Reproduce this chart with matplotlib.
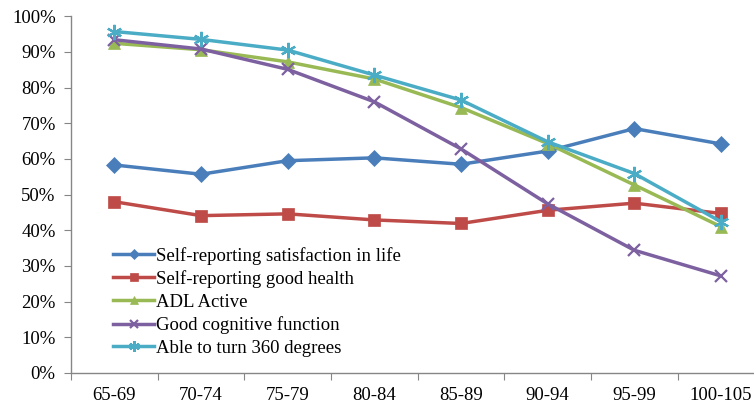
import matplotlib.pyplot as plt
from matplotlib.ticker import FixedLocator, NullFormatter

plt.rcParams['font.family'] = ['Liberation Serif', 'DejaVu Serif']

# 데이터
age_groups = ['65-69', '70-74', '75-79', '80-84', '85-89', '90-94', '95-99', '100-105']
satisfaction = [58.3, 55.7, 59.5, 60.3, 58.5, 62.2, 68.5, 64.2]
good_health = [48.0, 44.1, 44.6, 42.9, 41.9, 45.6, 47.6, 44.7]
adl_active = [92.4, 90.6, 87.2, 82.4, 74.4, 64.3, 52.7, 41.0]
cognitive = [93.4, 90.8, 85.1, 76.0, 62.8, 47.4, 34.4, 27.2]
turn_360 = [95.7, 93.5, 90.5, 83.5, 76.5, 64.8, 55.9, 42.4]

series = [
    ('Self-reporting satisfaction in life', satisfaction, '#4A7EBB', 'D', 8),
    ('Self-reporting good health', good_health, '#BE4B48', 's', 8),
    ('ADL Active', adl_active, '#98B954', '^', 9),
    ('Good cognitive function', cognitive, '#7D60A0', 'x', 9),
    ('Able to turn 360 degrees', turn_360, '#4BACC6', (6, 2, 0), 11),
]

fig = plt.figure(figsize=(7.54, 4.12), dpi=100)
ax = fig.add_axes([0.0942, 0.0947, 0.9195, 0.866])

x = list(range(len(age_groups)))
for label, vals, color, marker, ms in series:
    ax.plot(x, vals, color=color, lw=2.5, marker=marker, markersize=ms,
            markeredgewidth=1.6 if marker in ('x', (6, 2, 0)) else 0.5,
            markeredgecolor=color, label=label)

ax.set_xlim(-0.5, len(age_groups) - 0.5)
ax.set_ylim(0, 100)
ax.set_yticks(range(0, 101, 10))
ax.set_yticklabels([f'{v}%' for v in range(0, 101, 10)])

# 경계에 눈금, 가운데에 라벨
ax.xaxis.set_major_locator(FixedLocator([i - 0.5 for i in range(len(age_groups) + 1)]))
ax.xaxis.set_major_formatter(NullFormatter())
ax.xaxis.set_minor_locator(FixedLocator(x))
ax.set_xticklabels(age_groups, minor=True)
ax.tick_params(axis='x', which='minor', length=0, pad=10, labelsize=13.5)
ax.tick_params(axis='x', which='major', length=5, color='#868686')
ax.tick_params(axis='y', length=5, color='#868686', labelsize=13.5, pad=6)

for s in ['top', 'right']:
    ax.spines[s].set_visible(False)
for s in ['left', 'bottom']:
    ax.spines[s].set_color('#868686')
    ax.spines[s].set_linewidth(1.0)

leg = ax.legend(loc='upper left', bbox_to_anchor=(0.05, 0.375), frameon=False,
                fontsize=13.5, handlelength=2.2, handletextpad=0.1,
                labelspacing=0.3, markerscale=0.7, borderaxespad=0)

fig.savefig('out.png', dpi=100)
